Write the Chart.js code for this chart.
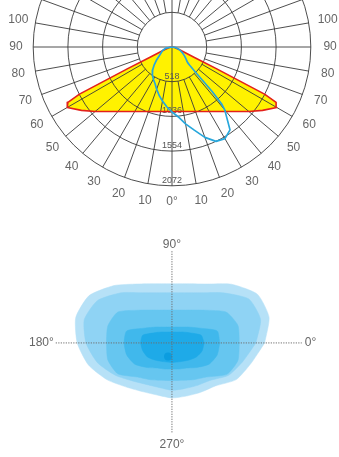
<!DOCTYPE html>
<html>
<head>
<meta charset="utf-8">
<script src="https://cdn.jsdelivr.net/npm/chart.js@4.4.1/dist/chart.umd.min.js"></script>
<style>
  html, body { margin: 0; padding: 0; background: #fff; }
  #wrap { position: relative; width: 339px; height: 457px; overflow: hidden; }
  #polarCanvas { position: absolute; left: 0; top: 0; }
  #isoCanvas { position: absolute; left: 0; top: 225px; }
</style>
</head>
<body>
<div id="wrap">
  <canvas id="polarCanvas" width="339" height="215"></canvas>
  <canvas id="isoCanvas" width="339" height="232"></canvas>
</div>
<script>
// --- polar diagram (cd) ---
// C0-C180 plane, same on both sides, angle from nadir
const angles = [0, 5, 10, 15, 20, 25, 30, 35, 40, 45, 50, 55, 60, 62, 63, 64, 65, 70, 80, 90];
const c0c180 = [963, 966, 978, 997, 1025, 1063, 1112, 1175, 1257, 1362, 1498, 1650, 1805, 1760, 1550, 720, 370, 120, 40, 0];

// C90-C270 plane, -90 (left) .. 90 (right)
const blueAngles = [-90, -80, -70, -60, -50, -45, -40, -35, -30, -25, -20, -15, -10, -5, 0, 5, 10, 15, 20, 25, 30, 35, 40, 41, 42, 43, 44, 45, 50, 55, 60, 70, 80, 90];
const c90c270 = [0, 90, 150, 195, 300, 375, 450, 510, 555, 600, 670, 745, 820, 895, 970, 1045, 1165, 1285, 1435, 1555, 1580, 1510, 1225, 1135, 895, 520, 375, 330, 270, 225, 185, 120, 60, 0];

const ringValues = [518, 1036, 1554, 2072];
const angleLabels = [10, 20, 30, 40, 50, 60, 70, 80, 90, 100];

// --- isolux style map: radius of each level by direction ---
const isoAngles = [0, 15, 30, 45, 60, 75, 90, 105, 120, 135, 150, 165, 180, 195, 210, 225, 240, 255, 270, 285, 300, 315, 330, 345];
const level1 = [95, 103, 101, 86, 70.5, 63.5, 61.3, 63.5, 70.5, 84, 98, 102, 97, 88.5, 76.5, 65, 58.5, 56, 57, 57, 59, 63, 76, 83.5];
const level2 = [86, 94, 91, 73.5, 60, 53.8, 52, 53.8, 60, 73.5, 88, 93, 88, 79, 67, 56, 50, 48, 49, 49, 51, 55, 67, 75];
const level3 = [69, 70, 64, 48, 39.3, 35.2, 34, 35.2, 39.3, 48, 64, 68, 67, 68, 64, 50, 44, 40, 39, 40, 44, 50, 65, 70];
const level4 = [49, 48, 31, 23.3, 19, 17, 16.5, 17, 19, 23.3, 31, 48, 49, 48, 44, 36, 30, 28, 27, 28, 30, 36, 44, 48];
const level5 = [33, 31, 21, 16, 13, 11.7, 11.3, 11.7, 13, 16, 21, 31, 32, 31, 29, 25, 22, 20.5, 20.3, 20.5, 22, 25, 29, 32];
const peakX = [-4];
const peakY = [-14];
const levelColors = ["#b6e1f7", "#8fd3f4", "#66c6f0", "#40b8ec", "#1eaae8"];

const deg = Math.PI / 180;

function polarPoints(angs, vals) {
  return angs.map((a, i) => ({ x: vals[i] * Math.sin(a * deg), y: -vals[i] * Math.cos(a * deg) }));
}

// red curve: left half then right half
const redPts = polarPoints(angles.map(a => -a).reverse(), c0c180.slice().reverse())
  .concat(polarPoints(angles.slice(1), c0c180.slice(1)));
const bluePts = polarPoints(blueAngles, c90c270);

const labelFont = '12px "Liberation Sans", Arial, sans-serif';

const polarGrid = {
  id: "polarGrid",
  afterDatasetDraw(chart, args) {
    if (args.index !== 0) return;
    const { ctx, scales: { x, y } } = chart;
    const cx = x.getPixelForValue(0), cy = y.getPixelForValue(0);
    const pr = v => x.getPixelForValue(v) - cx;
    ctx.save();
    ctx.strokeStyle = "#3a3a3a";
    ctx.lineWidth = 0.9;
    ringValues.forEach(v => {
      ctx.beginPath();
      ctx.arc(cx, cy, pr(v), 0, Math.PI * 2);
      ctx.stroke();
    });
    const rIn = pr(ringValues[0]), rOut = pr(ringValues[ringValues.length - 1]);
    for (let a = 0; a < 360; a += 10) {
      const r0 = a % 90 === 0 ? 0 : rIn;
      ctx.beginPath();
      ctx.moveTo(cx + r0 * Math.sin(a * deg), cy + r0 * Math.cos(a * deg));
      ctx.lineTo(cx + rOut * Math.sin(a * deg), cy + rOut * Math.cos(a * deg));
      ctx.stroke();
    }
    ctx.fillStyle = "#555";
    ctx.font = '9px "Liberation Sans", Arial, sans-serif';
    ctx.textAlign = "center";
    ctx.textBaseline = "bottom";
    ringValues.forEach(v => ctx.fillText(String(v), cx, cy + pr(v) - 1));
    ctx.restore();
  },
  afterDraw(chart) {
    const { ctx, scales: { x, y } } = chart;
    const cx = x.getPixelForValue(0), cy = y.getPixelForValue(0);
    const R = x.getPixelForValue(2330) - cx;
    ctx.save();
    ctx.fillStyle = "#666";
    ctx.font = labelFont;
    ctx.textAlign = "center";
    ctx.textBaseline = "middle";
    angleLabels.forEach(a => {
      const dx = R * Math.sin(a * deg), dy = R * Math.cos(a * deg);
      ctx.fillText(String(a), cx - dx, cy + dy);
      ctx.fillText(String(a), cx + dx + 2, cy + dy);
    });
    ctx.fillText("0°", cx, cy + R - 1);
    ctx.restore();
  }
};

const pxUnit = 518 / 34.7; // cd per pixel

new Chart(document.getElementById("polarCanvas"), {
  type: "scatter",
  data: {
    datasets: [
      { data: redPts, showLine: true, fill: "shape", backgroundColor: "#fff200", borderWidth: 0, pointRadius: 0, order: 3 },
      { data: redPts, showLine: true, fill: false, borderColor: "#e3201b", borderWidth: 1.6, borderJoinStyle: "round", pointRadius: 0, order: 2 },
      { data: bluePts, showLine: true, fill: false, borderColor: "#27a7dc", borderWidth: 1.7, borderJoinStyle: "round", pointRadius: 0, order: 1 }
    ]
  },
  options: {
    responsive: false,
    animation: false,
    layout: { padding: 0 },
    plugins: { legend: { display: false }, tooltip: { enabled: false } },
    scales: {
      x: { type: "linear", display: false, min: -172 * pxUnit, max: 167 * pxUnit },
      y: { type: "linear", display: false, min: -168 * pxUnit, max: 47 * pxUnit }
    }
  },
  plugins: [polarGrid]
});

// --- bottom map ---
function isoPoints(vals) {
  const pts = isoAngles.map((a, i) => ({ x: vals[i] * Math.cos(a * deg), y: vals[i] * Math.sin(a * deg) }));
  pts.push(pts[0]);
  return pts;
}

const isoCross = {
  id: "isoCross",
  afterDatasetsDraw(chart) {
    const { ctx, scales: { x, y } } = chart;
    const cx = x.getPixelForValue(0), cy = y.getPixelForValue(0);
    ctx.save();
    ctx.strokeStyle = "#6d6d6d";
    ctx.lineWidth = 1;
    ctx.setLineDash([1.2, 1.3]);
    ctx.beginPath();
    ctx.moveTo(x.getPixelForValue(-119), cy);
    ctx.lineTo(x.getPixelForValue(133), cy);
    ctx.moveTo(cx, y.getPixelForValue(95));
    ctx.lineTo(cx, y.getPixelForValue(-94));
    ctx.stroke();
    ctx.setLineDash([]);
    ctx.fillStyle = "#666";
    ctx.font = labelFont;
    ctx.textBaseline = "middle";
    ctx.textAlign = "center";
    ctx.fillText("90°", cx, y.getPixelForValue(102));
    ctx.fillText("270°", cx, y.getPixelForValue(-105));
    ctx.textAlign = "right";
    ctx.fillText("180°", x.getPixelForValue(-121), cy);
    ctx.textAlign = "left";
    ctx.fillText("0°", x.getPixelForValue(136), cy);
    ctx.restore();
  }
};

const levels = [level1, level2, level3, level4, level5];
const isoSets = levels.map((lv, i) => ({
  data: isoPoints(lv),
  showLine: true,
  fill: "shape",
  backgroundColor: levelColors[i],
  borderColor: levelColors[i],
  borderWidth: 0.5,
  tension: 0.2,
  pointRadius: 0,
  order: 10 - i
}));
isoSets.push({
  data: peakX.map((px, i) => ({ x: px, y: peakY[i] })),
  backgroundColor: "#0b9de0",
  borderWidth: 0,
  pointRadius: 4,
  order: 1
});

new Chart(document.getElementById("isoCanvas"), {
  type: "scatter",
  data: { datasets: isoSets },
  options: {
    responsive: false,
    animation: false,
    layout: { padding: 0 },
    plugins: { legend: { display: false }, tooltip: { enabled: false } },
    scales: {
      x: { type: "linear", display: false, min: -172, max: 167 },
      y: { type: "linear", display: false, min: -114, max: 118 }
    }
  },
  plugins: [isoCross]
});
</script>
</body>
</html>
